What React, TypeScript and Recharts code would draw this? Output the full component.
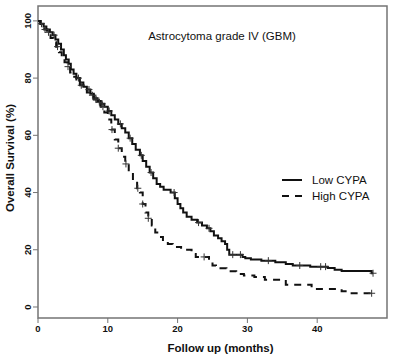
import {
  ComposedChart,
  Line,
  Scatter,
  XAxis,
  YAxis,
  ReferenceArea,
  Label,
} from 'recharts'

// Kaplan-Meier steps (months, % surviving)
const lowTimes = [
  0, 0.3, 0.8, 1.2, 1.7, 2.1, 2.5, 2.9, 3.3, 3.7, 4.0, 4.4, 4.7, 5.1, 5.5, 6.0, 6.5, 7.0, 7.5, 8.0,
  8.5, 9.0, 9.5, 10.0, 10.5, 11.0, 11.5, 12.0, 12.5, 13.0, 13.5, 14.0, 14.6, 15.0, 15.5, 16.0, 16.5,
  17.0, 17.5, 18.0, 19.0, 19.6, 20.0, 20.4, 20.8, 21.3, 22.0, 22.8, 23.5, 24.2, 24.7, 25.2, 25.8,
  26.3, 26.8, 27.1, 27.4, 29.3, 29.7, 30.5, 32.0, 34.0, 35.5, 36.5, 39.0, 41.5, 42.5, 43.5, 47.8, 48.0,
]
const lowSurv = [
  100, 99, 98, 97, 96, 95, 93.5, 92, 90, 88, 86.5, 85, 83, 81.5, 80, 78.5, 77, 76, 74.5, 73,
  72, 71, 70, 68.5, 67, 65.5, 64, 62.5, 61, 59, 57, 55, 53, 51, 49, 47, 45,
  43, 42, 41, 40, 38, 36, 34.5, 33, 31.5, 30.5, 29.5, 28.5, 27.5, 26.5, 25, 24,
  23, 22, 20, 18.3, 17.5, 17, 16.6, 16.2, 15.6, 15, 14.5, 14.1, 13.6, 13, 12.6, 11.8, 11.8,
]

const highTimes = [
  0, 0.4, 0.9, 1.3, 1.8, 2.2, 2.6, 3.0, 3.4, 3.8, 4.2, 4.6, 5.0, 5.5, 6.0, 6.5, 7.0, 7.5, 8.0,
  8.5, 9.0, 9.5, 10.0, 10.5, 11.0, 11.5, 12.0, 12.5, 13.0, 13.6, 14.2, 14.6, 15.0, 15.4, 15.8,
  16.3, 16.8, 17.3, 17.9, 18.6, 19.3, 20.5, 22.0, 22.6, 24.5, 25.0, 25.5, 27.0, 28.4, 29.5, 31.0,
  32.5, 35.5, 39.2, 43.5, 44.5, 48.0,
]
const highSurv = [
  100, 98.5, 97, 95.5, 94, 92.5, 91, 89, 87.5, 85.5, 84, 82, 80.5, 79, 77.5, 76.5, 75, 74, 72.5,
  71.5, 70, 68, 65.5, 62, 58.5, 55.5, 52.5, 50, 47, 44, 41.5, 40, 36, 33, 31,
  28.5, 26, 24.5, 23, 22, 21, 20, 18.5, 17.5, 16, 14.5, 13.5, 12.5, 11.5, 11, 10.5,
  9.5, 7.8, 6.3, 5.5, 4.8, 4.8,
]

// censoring ticks
const lowCensorTimes = [0.5, 1.5, 2.3, 5.8, 7.3, 8.3, 9.2, 10.2, 11.8, 13.2, 14.8, 16.2, 19.5, 23.0, 24.5, 27.9, 29.0, 33.0, 37.5, 40.5, 41.2, 48.0]
const lowCensorSurv = [99, 96, 95, 80, 76, 73, 71, 68.5, 64, 59, 53, 47, 40, 29.5, 27.5, 18.3, 18.3, 16.2, 14.5, 14.1, 14.1, 11.8]
const highCensorTimes = [1.0, 2.8, 4.3, 6.2, 7.8, 8.3, 8.8, 9.3, 10.6, 11.5, 12.6, 14.3, 15.0, 15.8, 23.8, 47.8]
const highCensorSurv = [97, 91, 84, 77.5, 74, 72.5, 71.5, 70, 62, 55.5, 50, 41.5, 36, 31, 17.5, 4.8]

const xTicks = [0, 10, 20, 30, 40]
const yTicks = [0, 20, 40, 60, 80, 100]
const seriesNames = ['Low CYPA', 'High CYPA']

const toPoints = (ts: number[], ss: number[]) => ts.map((t, i) => ({ t, s: ss[i] }))
const lowData = toPoints(lowTimes, lowSurv)
const highData = toPoints(highTimes, highSurv)
const lowCensor = toPoints(lowCensorTimes, lowCensorSurv)
const highCensor = toPoints(highCensorTimes, highCensorSurv)

const FONT = '"Liberation Sans", Arial, Helvetica, sans-serif'
const INK = '#111'
const FRAME = '#747474'

const Plus = (props: any) => {
  const { cx, cy } = props
  if (cx == null || cy == null) return null
  return <path d={`M${cx - 3.5},${cy}h7M${cx},${cy - 3.5}v7`} stroke="#333" strokeWidth={1} fill="none" />
}

const YTick = ({ x, y, payload }: any) => (
  <text
    x={x}
    y={y}
    transform={`rotate(-90 ${x} ${y})`}
    textAnchor="middle"
    fontFamily={FONT}
    fontSize={9.5}
    fontWeight="bold"
    fill={INK}
  >
    {payload.value}
  </text>
)

// legend sits inside the plot box, drawn as an overlay so it takes no chart space
const KMLegend = () => (
  <div style={{ position: 'absolute', left: 280, top: 172, fontFamily: FONT, fontSize: 11.5, color: INK }}>
    {seriesNames.map((name, i) => (
      <div key={name} style={{ display: 'flex', alignItems: 'center', height: 16 }}>
        <svg width={32} height={6}>
          <line x1={2} y1={3} x2={22} y2={3} stroke={INK} strokeWidth={2} strokeDasharray={i === 1 ? '7 6' : undefined} />
        </svg>
        <span>{name}</span>
      </div>
    ))}
  </div>
)

export default function App() {
  return (
    <div style={{ position: 'absolute', left: 0, top: 0, width: 396, height: 362, background: '#fff' }}>
      <ComposedChart width={396} height={362} margin={{ top: 6, right: 9, left: 0, bottom: 0 }}>
        <XAxis
          type="number"
          dataKey="t"
          domain={[0, 50]}
          ticks={xTicks}
          allowDataOverflow
          axisLine={false}
          tickLine={{ stroke: FRAME }}
          tickSize={5}
          tickMargin={2}
          height={44}
          tick={{ fontFamily: FONT, fontSize: 9.5, fontWeight: 'bold', fill: INK }}
        >
          <Label
            value="Follow up (months)"
            position="insideBottom"
            offset={10}
            dx={8}
            style={{ fontFamily: FONT, fontSize: 11.5, fontWeight: 'bold', fill: INK }}
          />
        </XAxis>
        <YAxis
          type="number"
          dataKey="s"
          domain={[-3.85, 105.2]}
          ticks={yTicks}
          allowDataOverflow
          axisLine={false}
          tickLine={{ stroke: FRAME }}
          tickSize={5}
          tickMargin={2}
          width={38}
          tick={<YTick />}
        >
          <Label
            value="Overall Survival (%)"
            position="center"
            angle={-90}
            dx={-9}
            dy={-4}
            style={{ fontFamily: FONT, fontSize: 11.5, fontWeight: 'bold', fill: INK }}
          />
        </YAxis>
        <ReferenceArea
          x1={0}
          x2={50}
          y1={-3.85}
          y2={105.2}
          fill="none"
          stroke={FRAME}
          strokeWidth={1.5}
          ifOverflow="visible"
        />
        <Line
          data={lowData}
          dataKey="s"
          name={seriesNames[0]}
          type="stepAfter"
          stroke={INK}
          strokeWidth={2}
          dot={false}
          isAnimationActive={false}
        />
        <Line
          data={highData}
          dataKey="s"
          name={seriesNames[1]}
          type="stepAfter"
          stroke={INK}
          strokeWidth={2}
          strokeDasharray="7 6"
          dot={false}
          isAnimationActive={false}
        />
        <Scatter data={lowCensor} dataKey="s" shape={<Plus />} legendType="none" isAnimationActive={false} />
        <Scatter data={highCensor} dataKey="s" shape={<Plus />} legendType="none" isAnimationActive={false} />
      </ComposedChart>
      <KMLegend />
      <div
        style={{
          position: 'absolute',
          left: 0,
          width: 444,
          top: 30,
          textAlign: 'center',
          fontFamily: FONT,
          fontSize: 11.5,
          color: INK,
        }}
      >
        Astrocytoma grade IV (GBM)
      </div>
    </div>
  )
}
